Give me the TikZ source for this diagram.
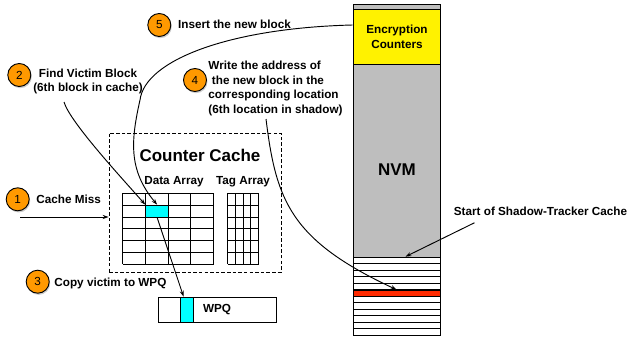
\documentclass[tikz,border=0pt]{standalone}
\usepackage{fontspec}
\setmainfont{Liberation Sans}
\usetikzlibrary{fit,calc,shadows,arrows.meta}
\definecolor{steporange}{HTML}{FF9900}
\definecolor{nvmgray}{HTML}{BEBEBE}
\definecolor{victimcyan}{HTML}{00FFFF}
\definecolor{shadowred}{HTML}{FF2A00}
\tikzset{
  stepnum/.style={circle, draw, fill=steporange, minimum size=6.9mm, inner sep=0pt,
    font=\fontsize{10}{12}\selectfont,
    drop shadow={shadow xshift=0.3mm, shadow yshift=-0.5mm, opacity=0.4}},
  lbl/.style={font=\fontsize{10}{12.5}\selectfont\bfseries, inner sep=0pt},
  bigname/.style={font=\fontsize{14.5}{17}\selectfont\bfseries, inner sep=0pt},
  boxfit/.style={draw, inner sep=0pt},
  stripe/.style={draw, inner sep=0pt, line width=0.6pt},
}
\begin{document}
\begin{tikzpicture}[x=0.3mm, y=-0.3mm, line width=0.8pt, >={Stealth[length=5pt,width=3.5pt]}]
\useasboundingbox (0,0) rectangle (630,339);

% NVM column
\node[boxfit, fit={(353,4) (440,335)}, fill=nvmgray] (nvm) {};
\node[boxfit, fit={(353,9) (440,64)}, fill=yellow] (counters) {};
\node[lbl, align=center] (counterslbl) at (397,36.5) {Encryption\\Counters};
\node[bigname] (nvmlbl) at (397,170) {NVM};
\foreach \i in {1,...,5,7,8,...,12}
  \node[stripe, fill=white, fit={(353,{257+(\i-1)*6.5}) (440,{257+\i*6.5})}] (s\i) {};
\node[stripe, fill=shadowred, fit={(353,290) (440,296.5)}] (s6) {};

% counter cache
\node[boxfit, dash pattern=on 3pt off 1.8pt, fit={(109,133) (281,272)}] (cache) {};
\node[bigname] (cachelbl) at (200,155) {Counter Cache};
\node[lbl] (datalbl) at (174,182) {Data Array};
\node[lbl] (taglbl) at (243,182) {Tag Array};
\node[inner sep=0pt, fill=victimcyan, fit={(145.7,205.1) (168.5,216.9)}] (victim) {};
\foreach \i in {0,...,4}
  \draw (122.5+\i*22.8,193.3) -- (122.5+\i*22.8,264.3);
\foreach \j in {0,...,6}
  \draw (122.5,193.3+\j*11.833) -- (213.7,193.3+\j*11.833);
\foreach \i in {0,...,4}
  \draw (227.7+\i*7.75,193.3) -- (227.7+\i*7.75,264.3);
\foreach \j in {0,...,6}
  \draw (227.7,193.3+\j*11.833) -- (258.7,193.3+\j*11.833);

% write pending queue
\node[boxfit, fit={(158.5,297) (276.5,322)}] (wpq) {};
\node[boxfit, fill=victimcyan, fit={(180.5,297) (193.5,322)}] (wpqslot) {};
\node[lbl] (wpqlbl) at (217,310) {WPQ};

% steps
\node[stepnum] (n1) at (17.7,199.3) {1};
\node[lbl, anchor=west] (misslbl) at (36,199) {Cache Miss};
\node[stepnum] (n2) at (19.3,75) {2};
\node[lbl, align=center] (findlbl) at (88,81.5) {Find Victim Block\\(6th block in cache)};
\node[stepnum] (n3) at (37.7,281.7) {3};
\node[lbl, anchor=west] (copylbl) at (54,283) {Copy victim to WPQ};
\node[stepnum] (n4) at (195,80) {4};
\node[lbl, align=left, anchor=west] (writelbl) at (208,88.5)
  {Write the address of\\\hspace{0.3em}the new block in the\\corresponding location\\(6th location in shadow)};
\node[stepnum] (n5) at (159.3,25) {5};
\node[lbl, anchor=west] (insertlbl) at (177.7,24) {Insert the new block};
\node[lbl] (shadowlbl) at (540.5,211) {Start of Shadow-Tracker Cache};

% connectors
\coordinate (missfrom) at (20,217);
\draw[->] (missfrom) -- (missfrom -| cache.west);
\coordinate (findfrom) at (64,102);
\draw[->] (findfrom) .. controls (70,122) and (120,176) .. (victim.north west);
\draw[->] (victim.south) -- ($(wpqslot.north)!0.5!(wpqslot.north west)$);
\coordinate (writefrom) at (266,119);
\draw[->] (writefrom) .. controls (276,200) and (290,240) .. (s6.north);
\draw[->] (counters.west |- n5) .. controls (230,28) and (145,60) .. (140,100)
  .. controls (131,140) and (128,170) .. (victim.north);
\draw[->] ($(shadowlbl.south west)+(21,7)$) -- ($(s1.north)+(9,0)$);
\end{tikzpicture}
\end{document}
